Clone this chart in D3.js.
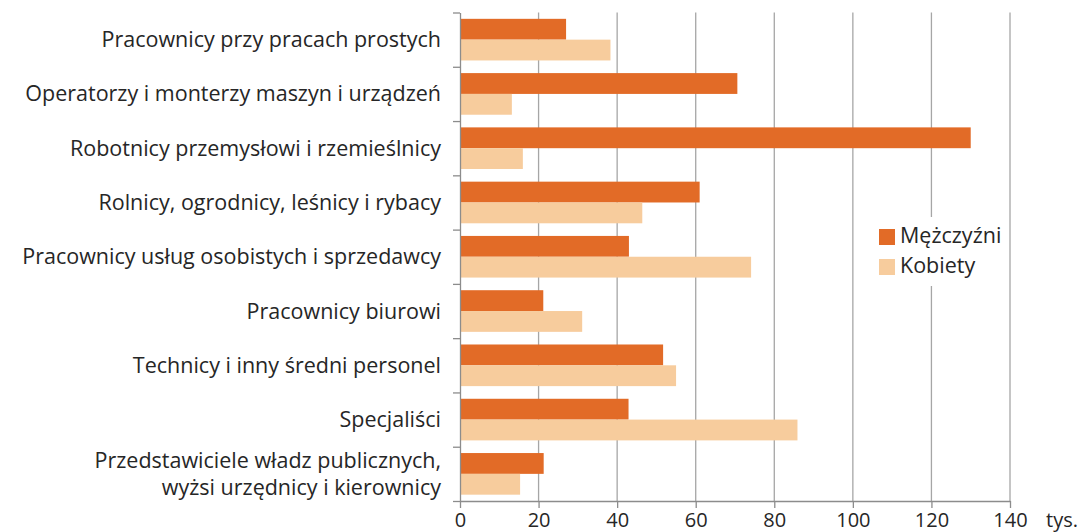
<!DOCTYPE html>
<html>
<head>
<meta charset="utf-8">
<script src="https://cdn.jsdelivr.net/npm/d3@7"></script>
<style>
  body { margin: 0; background: #fff; }
  text { font-family: "Open Sans", sans-serif; fill: #262626; }
</style>
</head>
<body>
<div id="chart"></div>
<script>
var W = 1084, H = 532;

// data (tys.)
var categories = [
  "Pracownicy przy pracach prostych",
  "Operatorzy i monterzy maszyn i urządzeń",
  "Robotnicy przemysłowi i rzemieślnicy",
  "Rolnicy, ogrodnicy, leśnicy i rybacy",
  "Pracownicy usług osobistych i sprzedawcy",
  "Pracownicy biurowi",
  "Technicy i inny średni personel",
  "Specjaliści",
  "Przedstawiciele władz publicznych,\nwyżsi urzędnicy i kierownicy"
];
var seriesNames = ["Mężczyźni", "Kobiety"];
var men   = [27, 70.6, 130, 61, 43, 21.2, 51.7, 42.9, 21.3];
var women = [38.3, 13.2, 16, 46.4, 74.1, 31.1, 55, 85.9, 15.3];
var xTicks = [0, 20, 40, 60, 80, 100, 120, 140];
var colors = ["#e26b27", "#f7cc9d"];

var margin = {left: 460, right: 74, top: 12.5, bottom: 31};

var svg = d3.select("#chart").append("svg")
  .attr("width", W).attr("height", H);

var x = d3.scaleLinear().domain([0, 140]).range([margin.left, W - margin.right]);
var y = d3.scaleBand().domain(categories)
  .range([margin.top, H - margin.bottom])
  .paddingInner(0.233).paddingOuter(0.1165);
var ySub = d3.scaleBand().domain(seriesNames).range([0, y.bandwidth()]);
var yEdge = d3.scaleLinear().domain([0, categories.length]).range([margin.top, H - margin.bottom]);

// gridlines
svg.append("g").selectAll("line")
  .data(xTicks.slice(1))
  .join("line")
  .attr("x1", d => x(d)).attr("x2", d => x(d))
  .attr("y1", margin.top).attr("y2", H - margin.bottom)
  .attr("stroke", "#a6a6a6").attr("stroke-width", 1.3);

// bars
var rows = categories.map((c, i) => ({cat: c, vals: [men[i], women[i]]}));
var grp = svg.append("g").selectAll("g")
  .data(rows).join("g")
  .attr("transform", d => "translate(0," + y(d.cat) + ")");
grp.selectAll("rect")
  .data(d => d.vals.map((v, j) => ({v: v, s: seriesNames[j], j: j})))
  .join("rect")
  .attr("x", x(0))
  .attr("y", d => ySub(d.s))
  .attr("width", d => x(d.v) - x(0))
  .attr("height", ySub.bandwidth())
  .attr("fill", d => colors[d.j]);

// y axis (ticks between categories)
var yAxis = svg.append("g")
  .attr("transform", "translate(" + x(0) + ",0)")
  .call(d3.axisLeft(yEdge).tickValues(d3.range(categories.length + 1)).tickFormat("").tickSize(7).tickSizeOuter(0));
yAxis.selectAll("line, path").attr("stroke", "#8c8c8c").attr("stroke-width", 1.3);

// x axis
var xAxis = svg.append("g")
  .attr("transform", "translate(0," + (H - margin.bottom) + ")")
  .call(d3.axisBottom(x).tickValues(xTicks).tickSize(7).tickSizeOuter(0).tickPadding(0));
xAxis.selectAll("line, path").attr("stroke", "#8c8c8c").attr("stroke-width", 1.3);
xAxis.selectAll("text")
  .attr("dy", null).attr("y", 26)
  .style("font-size", "20px").attr("fill", "#262626")
  .style("font-family", "'Open Sans', sans-serif");
svg.append("text")
  .attr("x", 1046).attr("y", 527)
  .style("font-size", "20px")
  .text("tys.");

// category labels
var labels = svg.append("g").selectAll("text")
  .data(categories).join("text")
  .attr("text-anchor", "end")
  .attr("x", 441)
  .attr("y", d => y(d) + y.bandwidth() / 2)
  .style("font-size", "21.5px");
labels.each(function(d) {
  var lines = d.split("\n");
  var t = d3.select(this);
  lines.forEach((l, i) => {
    t.append("tspan")
      .attr("x", 441)
      .attr("dy", i === 0 ? (0.35 - (lines.length - 1) * 0.64) + "em" : "1.28em")
      .text(l);
  });
});

// legend
var lg = svg.append("g");
lg.append("rect")
  .attr("x", 868).attr("y", 217).attr("width", 138).attr("height", 69)
  .attr("fill", "#fff");
var li = lg.selectAll("g.item").data(seriesNames).join("g")
  .attr("class", "item")
  .attr("transform", (d, i) => "translate(879," + (229 + i * 30) + ")");
li.append("rect").attr("width", 16).attr("height", 16)
  .attr("fill", (d, i) => colors[i]);
li.append("text").attr("x", 21).attr("y", 14)
  .style("font-size", "21.5px")
  .text(d => d);
</script>
</body>
</html>
